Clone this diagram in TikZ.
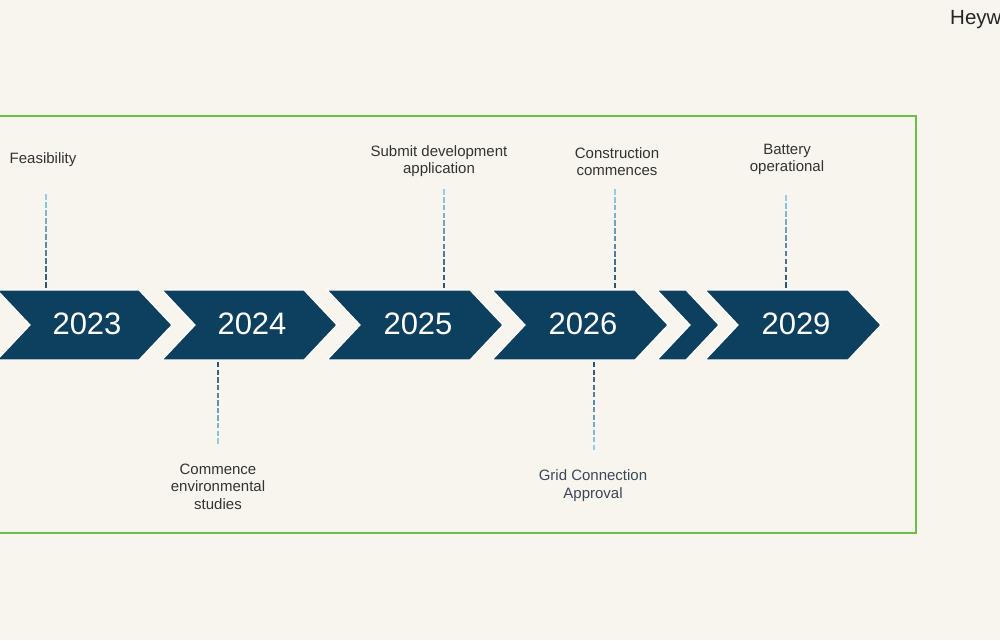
\documentclass[tikz,border=0pt]{standalone}
\usepackage{fontspec}
\setmainfont{Liberation Sans}
\usetikzlibrary{calc}
\definecolor{bg}{HTML}{F8F5EE}
\definecolor{navy}{HTML}{0D3F5E}
\definecolor{framegreen}{HTML}{6DBE47}
\definecolor{lblue}{HTML}{93CDEA}
\definecolor{dblue}{HTML}{2A5573}
\definecolor{txt}{HTML}{333333}
\definecolor{txtb}{HTML}{3B4858}
\newcommand\mychev[2]{\draw[chev] (#1,290) -- ++(#2,0) -- ++(33,35) -- ++(-33,35) -- ++(-#2,0) -- ++(33,-35) -- cycle;}
\newcommand\gradline[3]{%
  \foreach \i in {0,...,#3} {
    \pgfmathsetmacro\s{\i/(#3+1)}
    \pgfmathsetmacro\e{(\i+0.7)/(#3+1)}
    \pgfmathtruncatemacro\p{100*\i/#3}
    \draw[line width=2.6pt, color=lblue!\p!dblue] ($(#1)!\s!(#2)$) -- ($(#1)!\e!(#2)$);
  }}
\begin{document}
\begin{tikzpicture}[x=1pt,y=-1pt,
  chev/.style={fill=navy, draw=white, line width=1.2pt, line join=miter},
  year/.style={text=white, font=\fontsize{31}{31}\selectfont, inner sep=0pt},
  lbl/.style={text=txt, font=\fontsize{15}{17.5}\selectfont, align=center, inner sep=0pt},
]
\useasboundingbox (0,0) rectangle (1000,640);
\clip (0,0) rectangle (1000,640);
\fill[bg] (0,0) rectangle (1000,640);
\draw[framegreen, line width=1.5pt] (-10,116) rectangle (916,533);

% chevrons
\mychev{-3}{142}
\mychev{162}{142}
\mychev{327}{143}
\mychev{492}{143}
\mychev{657}{29}
\mychev{705}{143}

\node[year] (y2023) at (87,324) {2023};
\node[year] (y2024) at (252,324) {2024};
\node[year] (y2025) at (418,324) {2025};
\node[year] (y2026) at (583,324) {2026};
\node[year] (y2029) at (796,324) {2029};

% labels
\node[lbl] (feas) at (43,160) {Feasibility};
\node[lbl] (subm) at (439,161) {Submit development\\application};
\node[lbl] (cons) at (617,161.5) {Construction\\commences};
\node[lbl] (batt) at (787,159.5) {Battery\\operational};
\node[lbl] (comm) at (218,486.5) {Commence\\environmental\\studies};
\node[lbl, text=txtb] (grid) at (593,485.5) {Grid Connection\\Approval};

% connector end points
\coordinate (feasA) at (46,288);  \coordinate (feasB) at (46,192);
\coordinate (submA) at (444,288); \coordinate (submB) at (444,187);
\coordinate (consA) at (615,288); \coordinate (consB) at (615,187);
\coordinate (battA) at (786,288); \coordinate (battB) at (786,193);
\coordinate (commA) at (218,362); \coordinate (commB) at (218,446);
\coordinate (gridA) at (594,362); \coordinate (gridB) at (594,452);

\gradline{feasA}{feasB}{11}
\gradline{submA}{submB}{12}
\gradline{consA}{consB}{12}
\gradline{battA}{battB}{11}
\gradline{commA}{commB}{10}
\gradline{gridA}{gridB}{11}

\node[anchor=base west, inner sep=0pt, text=black!85, font=\fontsize{20.5}{20.5}\selectfont] (hey) at (950,24) {Heyw};
\end{tikzpicture}
\end{document}
